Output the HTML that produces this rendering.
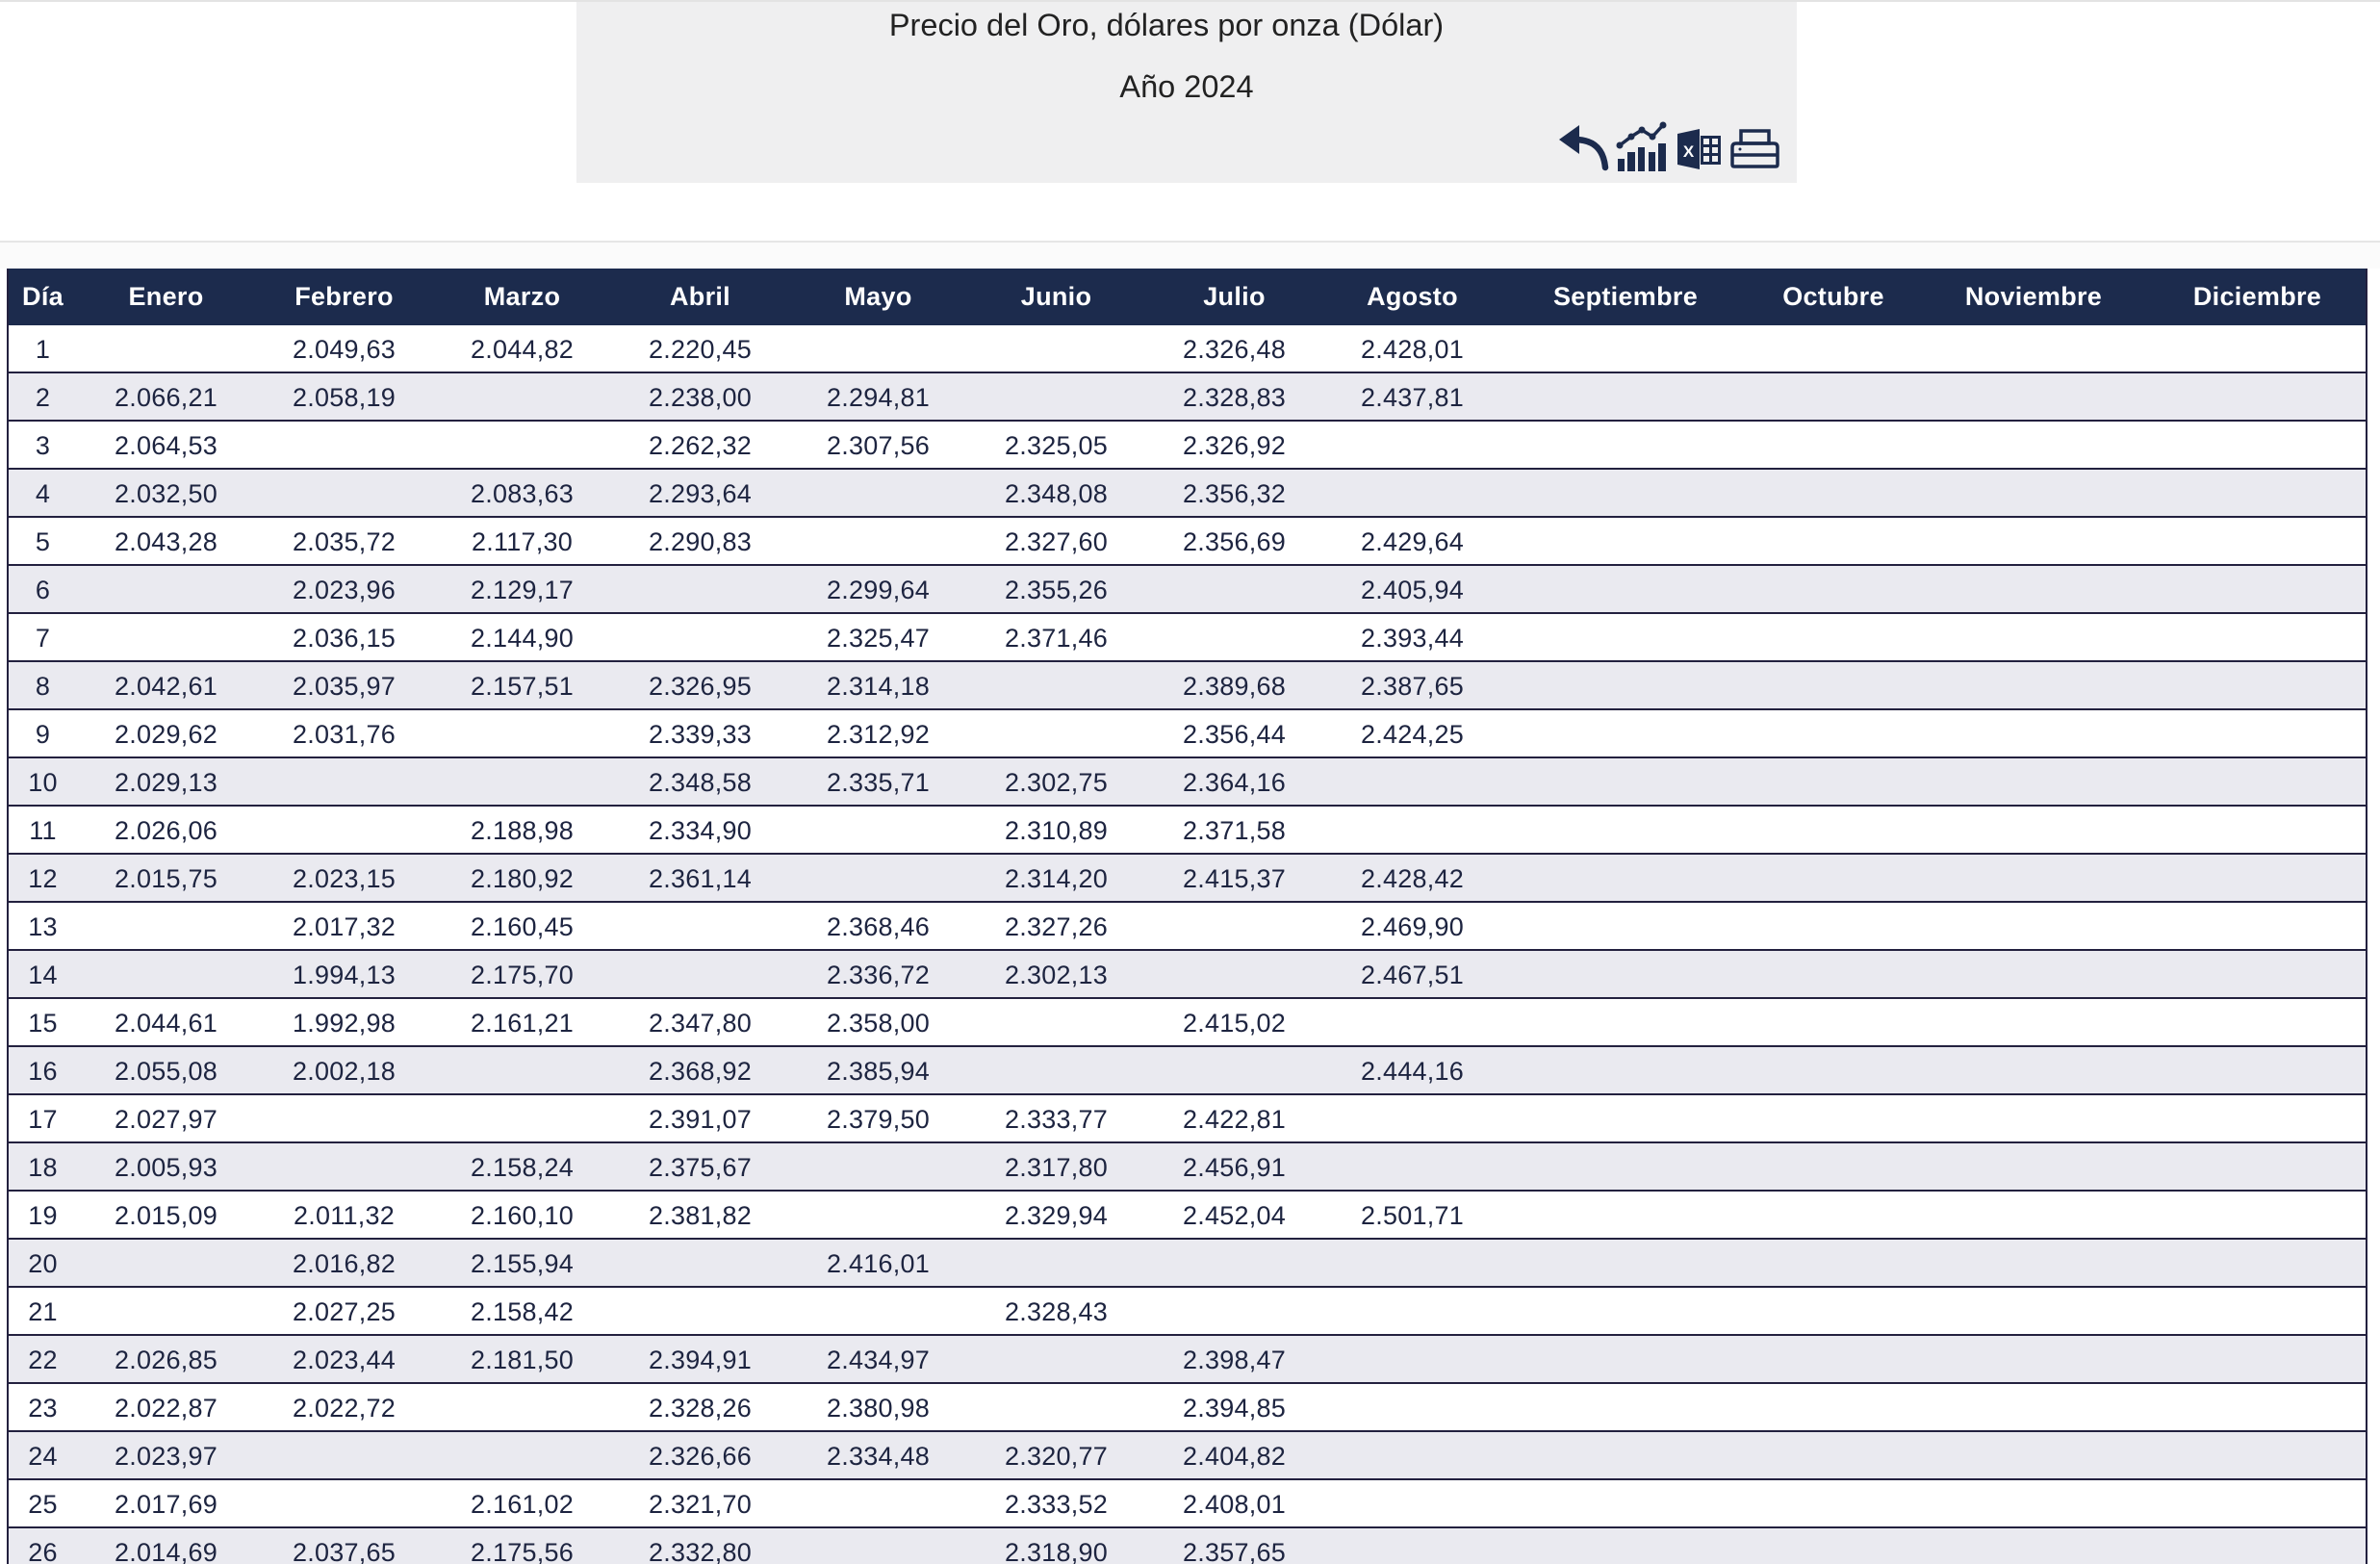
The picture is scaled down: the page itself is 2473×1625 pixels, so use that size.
<!DOCTYPE html>
<html>
<head>
<meta charset="utf-8">
<style>
html,body{margin:0;padding:0;width:2473px;height:1625px;overflow:hidden;}
body{background:#ffffff;font-family:"Liberation Sans",Arial,sans-serif;}
#wrap{position:relative;width:2473px;height:1625px;overflow:hidden;background:#fff;}
.topline{position:absolute;left:0;top:0;width:2473px;height:2px;background:#e3e3e3;}
.box{position:absolute;left:599px;top:2px;width:1268px;height:188px;background:#efeff0;}
.t1{position:absolute;left:578px;width:1268px;top:6px;text-align:center;font-size:32.5px;line-height:40px;color:#222;}
.t2{position:absolute;left:599px;width:1268px;top:70px;text-align:center;font-size:32.5px;line-height:40px;color:#222;}
.sep{position:absolute;left:0;top:250px;width:2473px;height:2px;background:#e6e6e6;}
.sepfill{position:absolute;left:0;top:252px;width:2473px;height:27px;background:#fbfbfb;}
.tbl{position:absolute;left:7px;top:279px;width:2453px;box-sizing:border-box;border-left:2px solid #23213f;border-right:2px solid #23213f;}
.hdr{display:flex;height:59px;background:#1c2b4d;color:#fff;font-weight:bold;font-size:27px;letter-spacing:0.3px;line-height:59px;}
.row{display:flex;height:50px;box-sizing:border-box;border-bottom:2px solid #23213f;color:#1d2440;font-size:27px;letter-spacing:0.25px;line-height:51px;background:#fff;}
.row.alt{background:#eaeaf0;}
.c{text-align:center;white-space:nowrap;overflow:visible;flex:none;}
.c0{width:71px;}
.cm{width:185px;}
.c9{width:258px;}
.c10{width:174px;}
.c11{width:242px;}
.c12{width:223px;}
</style>
</head>
<body>
<div id="wrap">
<div class="topline"></div>
<div class="box"></div>
<div class="t1">Precio del Oro, dólares por onza (Dólar)</div>
<div class="t2">Año 2024</div>

<svg style="position:absolute;left:0;top:0" width="2473" height="200" viewBox="0 0 2473 200">
  <!-- undo arrow -->
  <path d="M1668,174 C1666,154 1655,145 1636,145" fill="none" stroke="#1c2b4d" stroke-width="6.5" stroke-linecap="round"/>
  <polygon points="1620,145 1641,130 1641,160" fill="#1c2b4d"/>
  <!-- chart icon -->
  <rect x="1681" y="165" width="7" height="13" fill="#1c2b4d"/>
  <rect x="1691" y="158" width="8" height="20" fill="#1c2b4d"/>
  <rect x="1702" y="153" width="7" height="25" fill="#1c2b4d"/>
  <rect x="1713" y="158" width="7" height="20" fill="#1c2b4d"/>
  <rect x="1723" y="149" width="8" height="29" fill="#1c2b4d"/>
  <polyline points="1683,151 1695,142 1706,135 1717,142 1728,130" fill="none" stroke="#1c2b4d" stroke-width="3.5"/>
  <circle cx="1683" cy="151" r="3.5" fill="#1c2b4d"/>
  <circle cx="1695" cy="142" r="3.5" fill="#1c2b4d"/>
  <circle cx="1706" cy="135" r="3.5" fill="#1c2b4d"/>
  <circle cx="1717" cy="142" r="3.5" fill="#1c2b4d"/>
  <circle cx="1728" cy="130" r="3.5" fill="#1c2b4d"/>
  <!-- excel icon -->
  <polygon points="1743,139 1766,134 1766,176 1743,171" fill="#1c2b4d"/>
  <text x="1754.5" y="163" font-family="Liberation Sans, Arial, sans-serif" font-size="17" font-weight="bold" fill="#ffffff" text-anchor="middle">X</text>
  <rect x="1767" y="141" width="21" height="30" fill="#1c2b4d"/>
  <rect x="1770" y="144" width="6" height="6" fill="#efeff0"/>
  <rect x="1779" y="144" width="6" height="6" fill="#efeff0"/>
  <rect x="1770" y="153" width="6" height="6" fill="#efeff0"/>
  <rect x="1779" y="153" width="6" height="6" fill="#efeff0"/>
  <rect x="1770" y="162" width="6" height="6" fill="#efeff0"/>
  <rect x="1779" y="162" width="6" height="6" fill="#efeff0"/>
  <!-- printer icon -->
  <rect x="1809" y="136" width="29" height="13" fill="none" stroke="#1c2b4d" stroke-width="3.5"/>
  <path d="M1804,149 L1843,149 Q1847,149 1847,153 L1847,171 Q1847,173 1845,173 L1802,173 Q1800,173 1800,171 L1800,153 Q1800,149 1804,149 Z" fill="none" stroke="#1c2b4d" stroke-width="3.5"/>
  <line x1="1800" y1="161" x2="1847" y2="161" stroke="#1c2b4d" stroke-width="3.5"/>
  <circle cx="1808" cy="155" r="1.5" fill="#1c2b4d"/>
</svg>

<div class="sep"></div>
<div class="sepfill"></div>

<div class="tbl">
  <div class="hdr">
    <div class="c c0">Día</div><div class="c cm">Enero</div><div class="c cm">Febrero</div><div class="c cm">Marzo</div><div class="c cm">Abril</div><div class="c cm">Mayo</div><div class="c cm">Junio</div><div class="c cm">Julio</div><div class="c cm">Agosto</div><div class="c c9">Septiembre</div><div class="c c10">Octubre</div><div class="c c11">Noviembre</div><div class="c c12">Diciembre</div>
  </div>
  <div class="row"><div class="c c0">1</div><div class="c cm"></div><div class="c cm">2.049,63</div><div class="c cm">2.044,82</div><div class="c cm">2.220,45</div><div class="c cm"></div><div class="c cm"></div><div class="c cm">2.326,48</div><div class="c cm">2.428,01</div><div class="c c9"></div><div class="c c10"></div><div class="c c11"></div><div class="c c12"></div></div>
  <div class="row alt"><div class="c c0">2</div><div class="c cm">2.066,21</div><div class="c cm">2.058,19</div><div class="c cm"></div><div class="c cm">2.238,00</div><div class="c cm">2.294,81</div><div class="c cm"></div><div class="c cm">2.328,83</div><div class="c cm">2.437,81</div><div class="c c9"></div><div class="c c10"></div><div class="c c11"></div><div class="c c12"></div></div>
  <div class="row"><div class="c c0">3</div><div class="c cm">2.064,53</div><div class="c cm"></div><div class="c cm"></div><div class="c cm">2.262,32</div><div class="c cm">2.307,56</div><div class="c cm">2.325,05</div><div class="c cm">2.326,92</div><div class="c cm"></div><div class="c c9"></div><div class="c c10"></div><div class="c c11"></div><div class="c c12"></div></div>
  <div class="row alt"><div class="c c0">4</div><div class="c cm">2.032,50</div><div class="c cm"></div><div class="c cm">2.083,63</div><div class="c cm">2.293,64</div><div class="c cm"></div><div class="c cm">2.348,08</div><div class="c cm">2.356,32</div><div class="c cm"></div><div class="c c9"></div><div class="c c10"></div><div class="c c11"></div><div class="c c12"></div></div>
  <div class="row"><div class="c c0">5</div><div class="c cm">2.043,28</div><div class="c cm">2.035,72</div><div class="c cm">2.117,30</div><div class="c cm">2.290,83</div><div class="c cm"></div><div class="c cm">2.327,60</div><div class="c cm">2.356,69</div><div class="c cm">2.429,64</div><div class="c c9"></div><div class="c c10"></div><div class="c c11"></div><div class="c c12"></div></div>
  <div class="row alt"><div class="c c0">6</div><div class="c cm"></div><div class="c cm">2.023,96</div><div class="c cm">2.129,17</div><div class="c cm"></div><div class="c cm">2.299,64</div><div class="c cm">2.355,26</div><div class="c cm"></div><div class="c cm">2.405,94</div><div class="c c9"></div><div class="c c10"></div><div class="c c11"></div><div class="c c12"></div></div>
  <div class="row"><div class="c c0">7</div><div class="c cm"></div><div class="c cm">2.036,15</div><div class="c cm">2.144,90</div><div class="c cm"></div><div class="c cm">2.325,47</div><div class="c cm">2.371,46</div><div class="c cm"></div><div class="c cm">2.393,44</div><div class="c c9"></div><div class="c c10"></div><div class="c c11"></div><div class="c c12"></div></div>
  <div class="row alt"><div class="c c0">8</div><div class="c cm">2.042,61</div><div class="c cm">2.035,97</div><div class="c cm">2.157,51</div><div class="c cm">2.326,95</div><div class="c cm">2.314,18</div><div class="c cm"></div><div class="c cm">2.389,68</div><div class="c cm">2.387,65</div><div class="c c9"></div><div class="c c10"></div><div class="c c11"></div><div class="c c12"></div></div>
  <div class="row"><div class="c c0">9</div><div class="c cm">2.029,62</div><div class="c cm">2.031,76</div><div class="c cm"></div><div class="c cm">2.339,33</div><div class="c cm">2.312,92</div><div class="c cm"></div><div class="c cm">2.356,44</div><div class="c cm">2.424,25</div><div class="c c9"></div><div class="c c10"></div><div class="c c11"></div><div class="c c12"></div></div>
  <div class="row alt"><div class="c c0">10</div><div class="c cm">2.029,13</div><div class="c cm"></div><div class="c cm"></div><div class="c cm">2.348,58</div><div class="c cm">2.335,71</div><div class="c cm">2.302,75</div><div class="c cm">2.364,16</div><div class="c cm"></div><div class="c c9"></div><div class="c c10"></div><div class="c c11"></div><div class="c c12"></div></div>
  <div class="row"><div class="c c0">11</div><div class="c cm">2.026,06</div><div class="c cm"></div><div class="c cm">2.188,98</div><div class="c cm">2.334,90</div><div class="c cm"></div><div class="c cm">2.310,89</div><div class="c cm">2.371,58</div><div class="c cm"></div><div class="c c9"></div><div class="c c10"></div><div class="c c11"></div><div class="c c12"></div></div>
  <div class="row alt"><div class="c c0">12</div><div class="c cm">2.015,75</div><div class="c cm">2.023,15</div><div class="c cm">2.180,92</div><div class="c cm">2.361,14</div><div class="c cm"></div><div class="c cm">2.314,20</div><div class="c cm">2.415,37</div><div class="c cm">2.428,42</div><div class="c c9"></div><div class="c c10"></div><div class="c c11"></div><div class="c c12"></div></div>
  <div class="row"><div class="c c0">13</div><div class="c cm"></div><div class="c cm">2.017,32</div><div class="c cm">2.160,45</div><div class="c cm"></div><div class="c cm">2.368,46</div><div class="c cm">2.327,26</div><div class="c cm"></div><div class="c cm">2.469,90</div><div class="c c9"></div><div class="c c10"></div><div class="c c11"></div><div class="c c12"></div></div>
  <div class="row alt"><div class="c c0">14</div><div class="c cm"></div><div class="c cm">1.994,13</div><div class="c cm">2.175,70</div><div class="c cm"></div><div class="c cm">2.336,72</div><div class="c cm">2.302,13</div><div class="c cm"></div><div class="c cm">2.467,51</div><div class="c c9"></div><div class="c c10"></div><div class="c c11"></div><div class="c c12"></div></div>
  <div class="row"><div class="c c0">15</div><div class="c cm">2.044,61</div><div class="c cm">1.992,98</div><div class="c cm">2.161,21</div><div class="c cm">2.347,80</div><div class="c cm">2.358,00</div><div class="c cm"></div><div class="c cm">2.415,02</div><div class="c cm"></div><div class="c c9"></div><div class="c c10"></div><div class="c c11"></div><div class="c c12"></div></div>
  <div class="row alt"><div class="c c0">16</div><div class="c cm">2.055,08</div><div class="c cm">2.002,18</div><div class="c cm"></div><div class="c cm">2.368,92</div><div class="c cm">2.385,94</div><div class="c cm"></div><div class="c cm"></div><div class="c cm">2.444,16</div><div class="c c9"></div><div class="c c10"></div><div class="c c11"></div><div class="c c12"></div></div>
  <div class="row"><div class="c c0">17</div><div class="c cm">2.027,97</div><div class="c cm"></div><div class="c cm"></div><div class="c cm">2.391,07</div><div class="c cm">2.379,50</div><div class="c cm">2.333,77</div><div class="c cm">2.422,81</div><div class="c cm"></div><div class="c c9"></div><div class="c c10"></div><div class="c c11"></div><div class="c c12"></div></div>
  <div class="row alt"><div class="c c0">18</div><div class="c cm">2.005,93</div><div class="c cm"></div><div class="c cm">2.158,24</div><div class="c cm">2.375,67</div><div class="c cm"></div><div class="c cm">2.317,80</div><div class="c cm">2.456,91</div><div class="c cm"></div><div class="c c9"></div><div class="c c10"></div><div class="c c11"></div><div class="c c12"></div></div>
  <div class="row"><div class="c c0">19</div><div class="c cm">2.015,09</div><div class="c cm">2.011,32</div><div class="c cm">2.160,10</div><div class="c cm">2.381,82</div><div class="c cm"></div><div class="c cm">2.329,94</div><div class="c cm">2.452,04</div><div class="c cm">2.501,71</div><div class="c c9"></div><div class="c c10"></div><div class="c c11"></div><div class="c c12"></div></div>
  <div class="row alt"><div class="c c0">20</div><div class="c cm"></div><div class="c cm">2.016,82</div><div class="c cm">2.155,94</div><div class="c cm"></div><div class="c cm">2.416,01</div><div class="c cm"></div><div class="c cm"></div><div class="c cm"></div><div class="c c9"></div><div class="c c10"></div><div class="c c11"></div><div class="c c12"></div></div>
  <div class="row"><div class="c c0">21</div><div class="c cm"></div><div class="c cm">2.027,25</div><div class="c cm">2.158,42</div><div class="c cm"></div><div class="c cm"></div><div class="c cm">2.328,43</div><div class="c cm"></div><div class="c cm"></div><div class="c c9"></div><div class="c c10"></div><div class="c c11"></div><div class="c c12"></div></div>
  <div class="row alt"><div class="c c0">22</div><div class="c cm">2.026,85</div><div class="c cm">2.023,44</div><div class="c cm">2.181,50</div><div class="c cm">2.394,91</div><div class="c cm">2.434,97</div><div class="c cm"></div><div class="c cm">2.398,47</div><div class="c cm"></div><div class="c c9"></div><div class="c c10"></div><div class="c c11"></div><div class="c c12"></div></div>
  <div class="row"><div class="c c0">23</div><div class="c cm">2.022,87</div><div class="c cm">2.022,72</div><div class="c cm"></div><div class="c cm">2.328,26</div><div class="c cm">2.380,98</div><div class="c cm"></div><div class="c cm">2.394,85</div><div class="c cm"></div><div class="c c9"></div><div class="c c10"></div><div class="c c11"></div><div class="c c12"></div></div>
  <div class="row alt"><div class="c c0">24</div><div class="c cm">2.023,97</div><div class="c cm"></div><div class="c cm"></div><div class="c cm">2.326,66</div><div class="c cm">2.334,48</div><div class="c cm">2.320,77</div><div class="c cm">2.404,82</div><div class="c cm"></div><div class="c c9"></div><div class="c c10"></div><div class="c c11"></div><div class="c c12"></div></div>
  <div class="row"><div class="c c0">25</div><div class="c cm">2.017,69</div><div class="c cm"></div><div class="c cm">2.161,02</div><div class="c cm">2.321,70</div><div class="c cm"></div><div class="c cm">2.333,52</div><div class="c cm">2.408,01</div><div class="c cm"></div><div class="c c9"></div><div class="c c10"></div><div class="c c11"></div><div class="c c12"></div></div>
  <div class="row alt"><div class="c c0">26</div><div class="c cm">2.014,69</div><div class="c cm">2.037,65</div><div class="c cm">2.175,56</div><div class="c cm">2.332,80</div><div class="c cm"></div><div class="c cm">2.318,90</div><div class="c cm">2.357,65</div><div class="c cm"></div><div class="c c9"></div><div class="c c10"></div><div class="c c11"></div><div class="c c12"></div></div>
</div>
</div>
</body>
</html>
